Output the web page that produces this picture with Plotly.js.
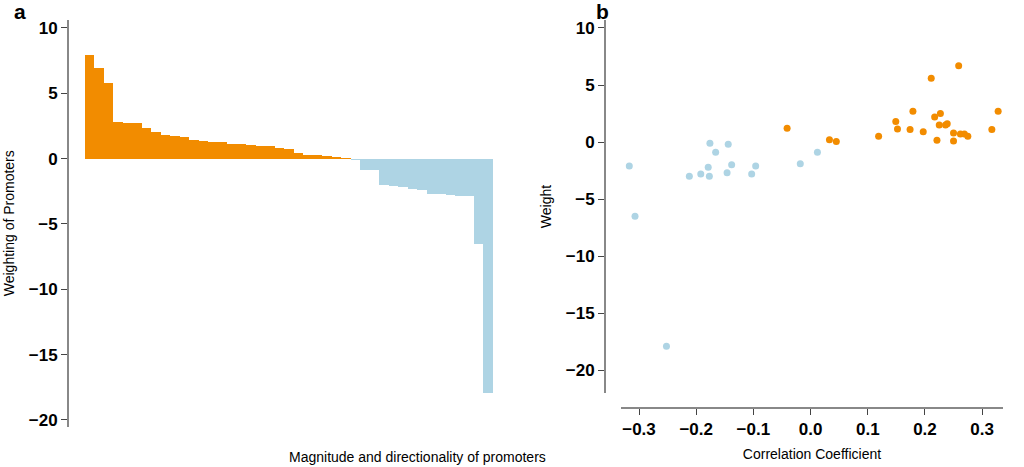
<!DOCTYPE html>
<html>
<head>
<meta charset="utf-8">
<script src="https://cdn.plot.ly/plotly-3.0.1.min.js"></script>
<style>html,body{margin:0;padding:0;background:#fff}#plot{width:1024px;height:467px}</style>
</head>
<body>
<div id="plot"></div>
<script>
// promoter weights, sorted
const weights = [7.9, 6.9, 5.8, 2.8, 2.75, 2.7, 2.3, 2.0, 1.8, 1.7, 1.65, 1.45, 1.35, 1.3, 1.3, 1.15, 1.1, 1.0, 0.95, 0.95,
  0.8, 0.75, 0.4, 0.3, 0.25, 0.2, 0.15, 0.05, -0.1, -0.85, -0.9, -2.0, -2.1, -2.2, -2.3, -2.4, -2.7, -2.75, -2.8, -2.85,
  -2.9, -6.5, -17.9];

const negCorr = [-0.317, -0.307, -0.252, -0.212, -0.192, -0.179, -0.177, -0.176, -0.166, -0.146, -0.144, -0.138, -0.103, -0.096, -0.018, 0.012];
const negWeight = [-2.1, -6.5, -17.9, -3.0, -2.8, -2.2, -3.0, -0.1, -0.9, -2.7, -0.2, -2.0, -2.8, -2.1, -1.9, -0.9];

const posCorr = [-0.041, 0.033, 0.045, 0.119, 0.149, 0.152, 0.174, 0.179, 0.197, 0.211, 0.217, 0.221, 0.225, 0.227, 0.236, 0.239,
  0.25, 0.25, 0.259, 0.262, 0.269, 0.275, 0.317, 0.328];
const posWeight = [1.2, 0.2, 0.05, 0.5, 1.8, 1.15, 1.1, 2.7, 0.9, 5.6, 2.2, 0.15, 1.5, 2.5, 1.5, 1.6,
  0.8, 0.1, 6.7, 0.7, 0.7, 0.5, 1.1, 2.7];

const orange = '#f28c00', blue = '#aed4e4';
const H = 467, W = 1024;

const traces = [
  {
    type: 'bar', x: weights.map((_, i) => i), y: weights, width: 1,
    marker: { color: weights.map(v => v >= 0 ? orange : blue), line: { width: 0 } },
    xaxis: 'x', yaxis: 'y', hoverinfo: 'y'
  },
  {
    type: 'scatter', mode: 'markers', x: negCorr, y: negWeight,
    marker: { color: blue, size: 7 }, xaxis: 'x2', yaxis: 'y2'
  },
  {
    type: 'scatter', mode: 'markers', x: posCorr, y: posWeight,
    marker: { color: orange, size: 7 }, xaxis: 'x2', yaxis: 'y2'
  }
];

const tickFont = { family: 'Liberation Sans, Arial', size: 17, color: '#000', weight: 'bold' };
const titleFont = { family: 'Liberation Sans, Arial', size: 14, color: '#000' };

const layout = {
  width: W, height: H,
  margin: { l: 0, r: 0, t: 0, b: 0 },
  showlegend: false,
  plot_bgcolor: '#fff', paper_bgcolor: '#fff',
  bargap: 0,
  xaxis: {
    domain: [75 / W, 500 / W], range: [-1.55, 43.24], visible: false
  },
  yaxis: {
    domain: [1 - 426.5 / H, 1 - 20 / H], range: [-20.5, 10.6],
    anchor: 'free', position: 68 / W,
    tickvals: [-20, -15, -10, -5, 0, 5, 10], ticks: 'outside', ticklen: 6,
    showline: true, linecolor: '#888', linewidth: 2, showgrid: false, zeroline: false,
    tickfont: tickFont,
    title: { text: 'Weighting of Promoters', font: titleFont, standoff: 10 }
  },
  xaxis2: {
    domain: [621 / W, 1003 / W], range: [-0.3315, 0.3365],
    anchor: 'free', position: 1 - 408 / H,
    tickvals: [-0.3, -0.2, -0.1, 0, 0.1, 0.2, 0.3], ticktext: ['−0.3', '−0.2', '−0.1', '0.0', '0.1', '0.2', '0.3'],
    ticks: 'outside', ticklen: 6,
    showline: true, linecolor: '#888', linewidth: 2, showgrid: false, zeroline: false,
    tickfont: tickFont,
    title: { text: 'Correlation Coefficient', font: titleFont, standoff: 10 }
  },
  yaxis2: {
    domain: [1 - 393 / H, 1 - 20 / H], range: [-22, 10.7],
    anchor: 'free', position: 605 / W, overlaying: false,
    tickvals: [-20, -15, -10, -5, 0, 5, 10], ticks: 'outside', ticklen: 6,
    showline: true, linecolor: '#888', linewidth: 2, showgrid: false, zeroline: false,
    tickfont: tickFont,
    title: { text: 'Weight', font: titleFont, standoff: 10 }
  },
  annotations: [
    { text: 'Magnitude and directionality of promoters', xref: 'paper', yref: 'paper',
      x: 287 / W, y: 1 - 457 / H, yanchor: 'middle', showarrow: false, font: titleFont },
    { text: '<b>a</b>', xref: 'paper', yref: 'paper', x: 12 / W, y: 1 - 12 / H,
      xanchor: 'left', yanchor: 'middle', showarrow: false, font: { family: 'Liberation Sans, Arial', size: 21, color: '#000' } },
    { text: '<b>b</b>', xref: 'paper', yref: 'paper', x: 594 / W, y: 1 - 12 / H,
      xanchor: 'left', yanchor: 'middle', showarrow: false, font: { family: 'Liberation Sans, Arial', size: 21, color: '#000' } }
  ]
};

Plotly.newPlot('plot', traces, layout, { displayModeBar: false, staticPlot: true });
</script>
</body>
</html>
